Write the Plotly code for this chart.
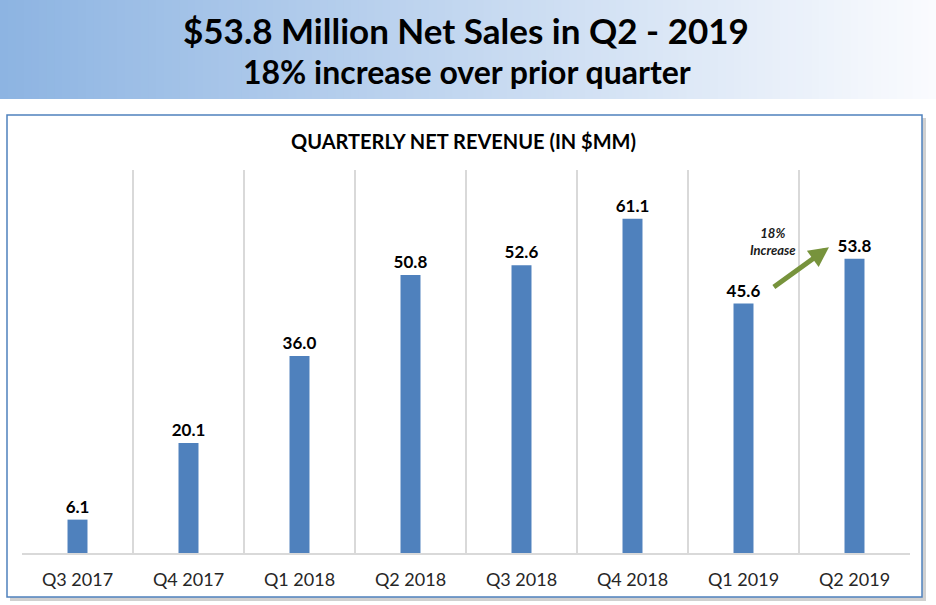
import plotly.graph_objects as go

quarters = ["Q3 2017", "Q4 2017", "Q1 2018", "Q2 2018", "Q3 2018", "Q4 2018", "Q1 2019", "Q2 2019"]
revenue = [6.1, 20.1, 36.0, 50.8, 52.6, 61.1, 45.6, 53.8]
labels = [f"{v:.1f}" for v in revenue]

W, H = 936, 605
FONT = "Lato, 'Open Sans', 'Noto Sans', sans-serif"

fig = go.Figure()
fig.add_trace(go.Bar(
    x=quarters, y=revenue, text=labels, textposition="outside",
    constraintext="none",
    textfont=dict(family=FONT, size=17, color="#000000", weight="bold"),
    marker=dict(color="#4f81bd", line=dict(width=0)),
    width=0.18, cliponaxis=False, hoverinfo="skip",
))

shapes = []
# header gradient band
N = 120
c0 = (141, 180, 226)
c1 = (250, 251, 254)
for i in range(N):
    t = i / (N - 1)
    col = tuple(round(c0[k] + (c1[k] - c0[k]) * t) for k in range(3))
    shapes.append(dict(type="rect", xref="paper", yref="paper",
                       x0=i / N, x1=(i + 1) / N + 0.001,
                       y0=(H - 99) / H, y1=1.0,
                       fillcolor=f"rgb{col}", line=dict(width=0), layer="below"))
# box shadow
shapes.append(dict(type="rect", xref="paper", yref="paper",
                   x0=10 / W, x1=926 / W, y0=(H - 601) / H, y1=(H - 118) / H,
                   fillcolor="#d0d0d0", line=dict(width=0), layer="below"))
# box
shapes.append(dict(type="rect", xref="paper", yref="paper",
                   x0=7 / W, x1=922 / W, y0=(H - 597) / H, y1=(H - 115) / H,
                   fillcolor="#ffffff", line=dict(color="#4f81bd", width=1.5), layer="below"))

annotations = [
    dict(text="<b>$53.8 Million Net Sales in Q2 - 2019</b>", xref="paper", yref="paper",
         x=466 / W, y=(H - 30) / H, showarrow=False, xanchor="center", yanchor="middle",
         font=dict(family=FONT, size=35, color="#000000")),
    dict(text="<b>18% increase over prior quarter</b>", xref="paper", yref="paper",
         x=467 / W, y=(H - 72) / H, showarrow=False, xanchor="center", yanchor="middle",
         font=dict(family=FONT, size=32, color="#000000")),
    dict(text="<b>QUARTERLY NET REVENUE (IN $MM)</b>", xref="paper", yref="paper",
         x=463 / W, y=(H - 141) / H, showarrow=False, xanchor="center", yanchor="middle",
         font=dict(family=FONT, size=20, color="#000000")),
    # growth arrow
    dict(x=6.77, y=55.9, ax=6.26, ay=48.4, xref="x", yref="y", axref="x", ayref="y",
         text="", showarrow=True, arrowhead=2, arrowsize=0.8, arrowwidth=5,
         arrowcolor="#77933c", standoff=0, startstandoff=0),
    dict(text="<b><i>18%<br>Increase</i></b>", x=6.27, y=56.9, xref="x", yref="y",
         showarrow=False, xanchor="center", yanchor="middle",
         font=dict(family=FONT, size=13, color="#1a1a1a")),
]

fig.update_layout(
    width=W, height=H,
    margin=dict(l=0, r=0, t=0, b=0),
    paper_bgcolor="#ffffff", plot_bgcolor="rgba(0,0,0,0)",
    showlegend=False,
    shapes=shapes, annotations=annotations,
    bargap=0.82,
    xaxis=dict(domain=[22 / W, 910 / W], type="category", tickson="boundaries",
               showgrid=True, gridcolor="#d9d9d9", gridwidth=1.5,
               showline=True, linecolor="#d9d9d9", linewidth=1.5,
               ticks="", ticklabelstandoff=10,
               tickfont=dict(family=FONT, size=18, color="#262626"),
               range=[-0.5, 7.5], fixedrange=True),
    yaxis=dict(domain=[(H - 553) / H, (H - 170) / H], range=[0, 70],
               showgrid=False, showticklabels=False, zeroline=False, showline=False,
               ticks="", fixedrange=True),
)

fig.write_html("out.html", config={"displayModeBar": False})
